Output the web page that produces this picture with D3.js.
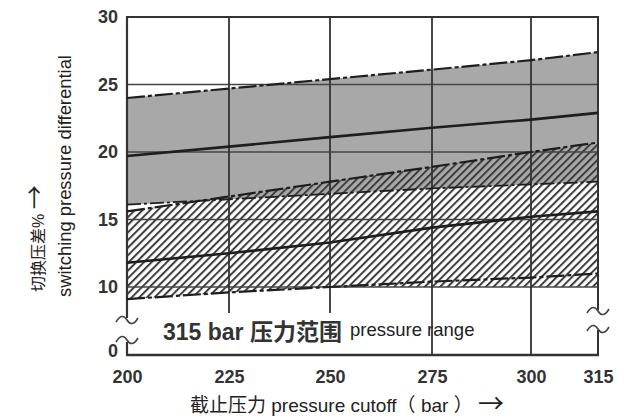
<!DOCTYPE html>
<html><head><meta charset="utf-8">
<script src="https://cdn.jsdelivr.net/npm/d3@7/dist/d3.min.js"></script>
<style>body{margin:0;background:#fff} svg{display:block}</style>
</head><body><svg id="c" width="630" height="419"></svg>
<script>
// ---- data ----
const pressures   = [200, 225, 250, 275, 300, 315];
const xTickLabels = ["200", "225", "250", "275", "300", "315"];
const yTicks      = [0, 10, 15, 20, 25, 30];
const yGrid       = [10, 15, 20, 25];
const xGrid       = [225, 250, 275, 300];
// gray band (upper dash-dot, middle solid, lower dashed)
const grayUpper   = [24.0, 24.7, 25.4, 26.1, 26.8, 27.4];
const grayMid     = [19.7, 20.4, 21.1, 21.8, 22.4, 22.9];
const grayLower   = [16.1, 16.5, 16.9, 17.3, 17.6, 17.8];
// hatched band (upper dash-dot, middle solid, lower dash-dot)
const hatchUpper  = [15.6, 16.7, 17.8, 18.9, 20.0, 20.7];
const hatchMid    = [11.8, 12.5, 13.3, 14.4, 15.2, 15.6];
const hatchLower  = [9.1, 9.6, 10.0, 10.4, 10.7, 11.0];
const hatchFloor  = 10;

// ---- layout ----
const svg = d3.select("#c");
const x = d3.scaleLinear().domain([200, 225, 250, 275, 300, 315]).range([127, 229, 330, 432, 531, 598]);
const y = d3.scaleLinear().domain([0, 9, 30]).range([355, 300.5, 17]);
const pLeft = x(200), pRight = x(315), pTop = y(30), pBottom = y(0);

const defs = svg.append("defs");
const pat = defs.append("pattern").attr("id", "hatch")
  .attr("patternUnits", "userSpaceOnUse").attr("width", 5.4).attr("height", 5.4)
  .attr("patternTransform", "rotate(45)");
pat.append("line").attr("x1", 1).attr("y1", 0).attr("x2", 1).attr("y2", 5.4)
  .attr("stroke", "#3d3d3d").attr("stroke-width", 2);

const rows = pressures.map((p, i) => ({p, gu: grayUpper[i], gm: grayMid[i], gl: grayLower[i],
  hu: hatchUpper[i], hm: hatchMid[i], hl: hatchLower[i]}));

// gray band
svg.append("path").datum(rows)
  .attr("d", d3.area().x(d => x(d.p)).y0(d => y(d.gl)).y1(d => y(d.gu)))
  .attr("fill", "#a8a8a8");
// hatched band
svg.append("path").datum(rows)
  .attr("d", d3.area().x(d => x(d.p)).y0(d => y(Math.min(d.hl, hatchFloor))).y1(d => y(d.hu)))
  .attr("fill", "url(#hatch)");

// grid
const g = svg.append("g").attr("stroke", "#333").attr("fill", "none");
yGrid.forEach(v => g.append("line").attr("x1", pLeft).attr("x2", pRight)
  .attr("y1", y(v)).attr("y2", y(v)).attr("stroke-width", 1.3).attr("stroke", "#444"));
xGrid.forEach(v => g.append("line").attr("x1", x(v)).attr("x2", x(v))
  .attr("y1", pTop).attr("y2", v < 260 ? 313 : pBottom).attr("stroke-width", 1.8));

// frame
g.append("line").attr("x1", pLeft - 1).attr("x2", pRight + 1).attr("y1", pTop).attr("y2", pTop).attr("stroke-width", 2);
g.append("line").attr("x1", pLeft - 1).attr("x2", pRight + 1).attr("y1", pBottom).attr("y2", pBottom).attr("stroke-width", 2.5);
g.append("line").attr("x1", pLeft).attr("x2", pLeft).attr("y1", pTop).attr("y2", 318).attr("stroke-width", 2.2);
g.append("line").attr("x1", pLeft).attr("x2", pLeft).attr("y1", 342).attr("y2", pBottom).attr("stroke-width", 2.2);
g.append("line").attr("x1", pRight).attr("x2", pRight).attr("y1", pTop).attr("y2", 310).attr("stroke-width", 2);
g.append("line").attr("x1", pRight).attr("x2", pRight).attr("y1", 330).attr("y2", pBottom).attr("stroke-width", 2);
// break marks
const tilde = (cx, cy) => `M${cx - 11},${cy + 2} C${cx - 7},${cy - 5} ${cx - 3},${cy - 5} ${cx},${cy} S${cx + 7},${cy + 5} ${cx + 11},${cy - 2}`;
[[pLeft, 320], [pLeft, 340], [pRight, 311], [pRight, 329]].forEach(([cx, cy]) =>
  g.append("path").attr("d", tilde(cx, cy)).attr("stroke-width", 1.6).attr("stroke", "#444"));

// data lines
const lineOf = key => d3.line().x(d => x(d.p)).y(d => y(d[key]));
const lines = [
  {k: "gu", dash: "18,3,4,3", w: 2.2},
  {k: "gm", dash: null, w: 2.6},
  {k: "gl", dash: "14,3,3,3", w: 1.8},
  {k: "hu", dash: "18,3,4,3", w: 2.2},
  {k: "hm", dash: null, w: 2.6},
  {k: "hl", dash: "18,3,4,3", w: 2.2}
];
lines.forEach(l => svg.append("path").datum(rows).attr("d", lineOf(l.k))
  .attr("fill", "none").attr("stroke", "#1e1e1e").attr("stroke-width", l.w)
  .attr("stroke-dasharray", l.dash));

// axes (labels only)
const tickFont = g2 => g2.selectAll("text").attr("fill", "#333")
  .style("font-family", "'Liberation Sans', Arial, sans-serif").style("font-weight", "bold").style("font-size", "18px");
const ya = svg.append("g").attr("transform", `translate(${pLeft},0)`)
  .call(d3.axisLeft(y).tickValues(yTicks).tickFormat(d3.format("d")).tickSize(0).tickPadding(9));
ya.select(".domain").remove(); tickFont(ya);
ya.selectAll(".tick").filter(d => d === 0).select("text").attr("dy", "0.1em");
const xa = svg.append("g").attr("transform", `translate(0,${pBottom})`)
  .call(d3.axisBottom(x).tickValues(pressures).tickFormat((d, i) => xTickLabels[i]).tickSize(0).tickPadding(15));
xa.select(".domain").remove(); tickFont(xa);

// titles
const font = "'Liberation Sans', Arial, 'Noto Sans CJK SC', sans-serif";
const arrowFont = "'Noto Sans CJK SC', sans-serif";
const yt1 = svg.append("text").attr("transform", "translate(44,292) rotate(-90)")
  .style("font-family", font).style("font-size", "16px").attr("fill", "#222");
yt1.append("tspan").text("切换压差% ");
yt1.append("tspan").style("font-family", arrowFont).style("font-size", "24px").attr("dy", "-0.05em").text("→");
svg.append("text").attr("transform", "translate(70.5,176) rotate(-90)").attr("text-anchor", "middle")
  .style("font-family", font).style("font-size", "18.4px").attr("fill", "#222")
  .text("switching pressure differential");
const xt = svg.append("text").attr("x", 190).attr("y", 412)
  .style("font-family", font).style("font-size", "19px").attr("fill", "#222");
xt.append("tspan").text("截止压力 pressure cutoff（ bar ） ");
xt.append("tspan").style("font-family", arrowFont).style("font-size", "26px").attr("dy", "0.03em").text("→");
svg.append("text").attr("x", 163).attr("y", 340)
  .style("font-family", font).style("font-size", "23px").style("font-weight", "bold").attr("fill", "#333")
  .text("315 bar 压力范围");
svg.append("text").attr("x", 350).attr("y", 336)
  .style("font-family", font).style("font-size", "18.5px").attr("fill", "#222")
  .text("pressure range");
</script></body></html>
